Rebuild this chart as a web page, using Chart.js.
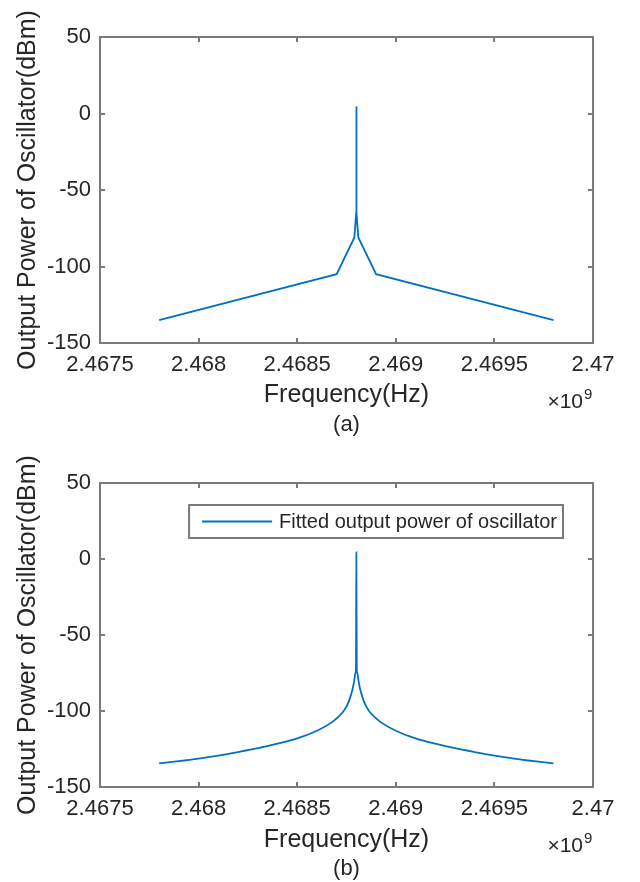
<!DOCTYPE html>
<html>
<head>
<meta charset="utf-8">
<script src="https://cdn.jsdelivr.net/npm/chart.js@4.4.1/dist/chart.umd.min.js"></script>
<style>
  body { margin: 0; background: #fff; }
  canvas { display: block; }
</style>
</head>
<body>
<canvas id="chartA" width="640" height="441"></canvas>
<canvas id="chartB" width="640" height="441"></canvas>
<script>
// (a) measured spectrum, Hz / dBm
const freqA = [2.4678e9, 2.4687e9, 2.46879e9, 2.468799e9, 2.4688e9, 2.468801e9, 2.46881e9, 2.4689e9, 2.4698e9];
const powerA = [-135, -105, -81, -65, 4.5, -65, -81, -105, -135];

// (b) fitted curve, Hz / dBm
const freqB = [2.4678e9, 2.4679e9, 2.468e9, 2.4681e9, 2.4682e9, 2.4683e9, 2.4684e9, 2.4685e9, 2.4686e9,
  2.46868e9, 2.46873e9, 2.46875e9, 2.468765e9, 2.46878e9, 2.46879e9, 2.468795e9, 2.468798e9,
  2.4688e9,
  2.468802e9, 2.468805e9, 2.46881e9, 2.46882e9, 2.468835e9, 2.46885e9, 2.46887e9, 2.46892e9,
  2.469e9, 2.4691e9, 2.4692e9, 2.4693e9, 2.4694e9, 2.4695e9, 2.4696e9, 2.4697e9, 2.4698e9];
const powerB = [-134.5, -133, -131.3, -129.3, -127, -124.5, -121.5, -118, -113,
  -107, -101, -97, -92.5, -86, -79.5, -75, -72,
  4.5,
  -72, -75, -79.5, -86, -92.5, -97, -101, -107,
  -113, -118, -121.5, -124.5, -127, -129.3, -131.3, -133, -134.5];

const xTicks = [2.4675e9, 2.468e9, 2.4685e9, 2.469e9, 2.4695e9, 2.47e9];
const yTicks = [50, 0, -50, -100, -150];

const lineColor = '#0072BD';
const axisColor = '#7a7a7a';
const textColor = '#262626';
const fontFam = '"Liberation Sans", Arial, sans-serif';

Chart.defaults.font.family = fontFam;
Chart.defaults.color = textColor;

// box round the axes, inward ticks, x10^9 and caption
const matlabBox = {
  id: 'matlabBox',
  afterDraw(chart, args, opts) {
    const ctx = chart.ctx;
    const a = chart.chartArea;
    const xs = chart.scales.x, ys = chart.scales.y;
    ctx.save();
    ctx.strokeStyle = axisColor;
    ctx.lineWidth = 2;
    ctx.strokeRect(a.left, a.top, a.right - a.left, a.bottom - a.top);
    ctx.beginPath();
    xs.ticks.forEach(t => {
      const px = Math.round(xs.getPixelForValue(t.value));
      ctx.moveTo(px, a.bottom); ctx.lineTo(px, a.bottom - 5);
      ctx.moveTo(px, a.top); ctx.lineTo(px, a.top + 5);
    });
    ys.ticks.forEach(t => {
      const py = Math.round(ys.getPixelForValue(t.value));
      ctx.moveTo(a.left, py); ctx.lineTo(a.left + 5, py);
      ctx.moveTo(a.right, py); ctx.lineTo(a.right - 5, py);
    });
    ctx.stroke();

    ctx.fillStyle = textColor;
    ctx.textBaseline = 'alphabetic';
    ctx.font = '21px ' + fontFam;
    ctx.textAlign = 'right';
    ctx.fillText('\u00d710', a.right - 10, a.bottom + 65);
    ctx.font = '15px ' + fontFam;
    ctx.textAlign = 'left';
    ctx.fillText('9', a.right - 9, a.bottom + 56);
    ctx.font = '22px ' + fontFam;
    ctx.textAlign = 'center';
    ctx.fillText(opts.caption, (a.left + a.right) / 2, a.bottom + 87.5);

    if (opts.legend) {
      const ds = chart.data.datasets[0];
      ctx.font = '20px ' + fontFam;
      const tw = ctx.measureText(ds.label).width;
      const w = tw + 96, h = 33;
      const right = a.right - 30, top = a.top + 22, left = right - w;
      ctx.fillStyle = '#fff';
      ctx.fillRect(left, top, w, h);
      ctx.strokeStyle = axisColor;
      ctx.lineWidth = 2;
      ctx.strokeRect(left, top, w, h);
      ctx.strokeStyle = ds.borderColor;
      ctx.lineWidth = ds.borderWidth;
      ctx.beginPath();
      ctx.moveTo(left + 13, top + h / 2);
      ctx.lineTo(left + 83, top + h / 2);
      ctx.stroke();
      ctx.fillStyle = textColor;
      ctx.textAlign = 'left';
      ctx.textBaseline = 'middle';
      ctx.fillText(ds.label, left + 90, top + h / 2 + 1);
    }
    ctx.restore();
  }
};

function makeChart(id, freq, power, label, caption, showLegend, padTop, xHeight, padBottom, smooth) {
  const pts = freq.map((f, i) => ({ x: f, y: power[i] }));
  return new Chart(document.getElementById(id), {
    type: 'line',
    data: {
      datasets: [{
        label: label,
        data: pts,
        borderColor: lineColor,
        borderWidth: 1.8,
        pointRadius: 0,
        fill: false,
        cubicInterpolationMode: smooth ? 'monotone' : 'default',
        tension: 0
      }]
    },
    plugins: [matlabBox],
    options: {
      responsive: false,
      animation: false,
      layout: { padding: { top: padTop, right: 47, bottom: padBottom, left: 0 } },
      scales: {
        x: {
          type: 'linear',
          min: xTicks[0],
          max: xTicks[xTicks.length - 1],
          afterBuildTicks: s => { s.ticks = xTicks.map(v => ({ value: v })); },
          afterFit: s => { s.height = xHeight; },
          grid: { display: false, drawTicks: false },
          border: { display: false },
          ticks: {
            padding: 9,
            maxRotation: 0,
            autoSkip: false,
            font: { size: 22 },
            color: textColor,
            callback: v => String(+(v / 1e9).toFixed(4))
          },
          title: { display: true, text: 'Frequency(Hz)', font: { size: 25 }, padding: 0, color: textColor }
        },
        y: {
          min: -150,
          max: 50,
          afterBuildTicks: s => { s.ticks = yTicks.map(v => ({ value: v })); },
          afterFit: s => { s.width = 100; },
          grid: { display: false, drawTicks: false },
          border: { display: false },
          ticks: { padding: 9, font: { size: 22 }, color: textColor },
          title: { display: true, text: 'Output Power of Oscillator(dBm)', font: { size: 25 }, padding: { top: 13, bottom: 0 }, color: textColor }
        }
      },
      plugins: {
        legend: { display: false },
        tooltip: { enabled: false },
        matlabBox: { caption: caption, legend: showLegend }
      }
    }
  });
}

makeChart('chartA', freqA, powerA, 'Output power of oscillator', '(a)', false, 37, 67, 31, false);
makeChart('chartB', freqB, powerB, 'Fitted output power of oscillator', '(b)', true, 42, 68, 27, true);
</script>
</body>
</html>
